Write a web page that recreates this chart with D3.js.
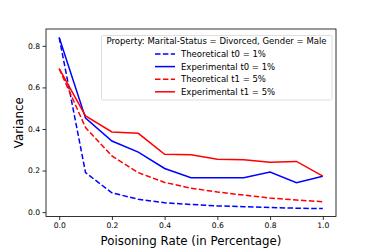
<!DOCTYPE html>
<html lang="en">
<head>
<meta charset="UTF-8">
<title>Variance vs Poisoning Rate</title>
<script src="https://d3js.org/d3.v7.min.js"></script>
<style>
    body { margin: 0; background: #fff; font-family: "DejaVu Sans", sans-serif; }
    svg text { fill: #000; }
</style>
</head>
<body>
<div id="chart"></div>
<script>
    const rates = [0.0, 0.1, 0.2, 0.3, 0.4, 0.5, 0.6, 0.7, 0.8, 0.9, 1.0];
    const theoT0 = [0.84, 0.19, 0.093, 0.062, 0.045, 0.037, 0.03, 0.026, 0.022, 0.019, 0.017];
    const expT0 = [0.84, 0.452, 0.342, 0.289, 0.21, 0.166, 0.166, 0.166, 0.193, 0.142, 0.173];
    const theoT1 = [0.69, 0.407, 0.27, 0.19, 0.143, 0.115, 0.097, 0.082, 0.068, 0.058, 0.05];
    const expT1 = [0.69, 0.463, 0.386, 0.379, 0.278, 0.276, 0.254, 0.252, 0.24, 0.244, 0.173];
    const xTicks = [0.0, 0.2, 0.4, 0.6, 0.8, 1.0];
    const yTicks = [0.0, 0.2, 0.4, 0.6, 0.8];
    const legendTitle = "Property: Marital-Status = Divorced, Gender = Male";

    const series = [
        { name: "Theoretical t0 = 1%", values: theoT0, color: "#0000ff", dash: "5.5,2.4" },
        { name: "Experimental t0 = 1%", values: expT0, color: "#0000ff", dash: null },
        { name: "Theoretical t1 = 5%", values: theoT1, color: "#ff0000", dash: "5.5,2.4" },
        { name: "Experimental t1 = 5%", values: expT1, color: "#ff0000", dash: null }
    ];

    const width = 374, height = 249;
    const margin = { top: 29, right: 38, bottom: 32.5, left: 46 };

    const svg = d3.select("#chart").append("svg")
        .attr("width", width)
        .attr("height", height);

    const x = d3.scaleLinear()
        .domain([-0.05, 1.05])
        .range([margin.left, width - margin.right]);

    const y = d3.scaleLinear()
        .domain([-0.021, 0.881])
        .range([height - margin.bottom, margin.top]);

    // axes
    const xAxis = svg.append("g")
        .attr("transform", `translate(0,${height - margin.bottom})`)
        .call(d3.axisBottom(x).tickValues(xTicks).tickFormat(d3.format(".1f")).tickSize(3.5).tickPadding(2.5));
    const yAxis = svg.append("g")
        .attr("transform", `translate(${margin.left},0)`)
        .call(d3.axisLeft(y).tickValues(yTicks).tickFormat(d3.format(".1f")).tickSize(3.5).tickPadding(2.5));

    [xAxis, yAxis].forEach(g => {
        g.select(".domain").remove();
        g.selectAll("text").style("font-family", "DejaVu Sans").style("font-size", "7.6px").attr("fill", "#000");
        g.selectAll("line").attr("stroke", "#000").attr("stroke-width", 0.8);
    });

    // frame
    svg.append("rect")
        .attr("x", margin.left)
        .attr("y", margin.top)
        .attr("width", width - margin.left - margin.right)
        .attr("height", height - margin.top - margin.bottom)
        .attr("fill", "none")
        .attr("stroke", "#000")
        .attr("stroke-width", 0.8);

    const line = d3.line()
        .x((d, i) => x(rates[i]))
        .y(d => y(d));

    series.forEach(s => {
        svg.append("path")
            .datum(s.values)
            .attr("d", line)
            .attr("fill", "none")
            .attr("stroke", s.color)
            .attr("stroke-width", 1.5)
            .attr("stroke-dasharray", s.dash);
    });

    // axis labels
    svg.append("text")
        .attr("x", (margin.left + width - margin.right) / 2)
        .attr("y", 245)
        .attr("text-anchor", "middle")
        .style("font-size", "11.8px")
        .text("Poisoning Rate (in Percentage)");

    svg.append("text")
        .attr("transform", `translate(22.5,${(margin.top + height - margin.bottom) / 2}) rotate(-90)`)
        .attr("text-anchor", "middle")
        .style("font-size", "11.8px")
        .text("Variance");

    // legend
    const legend = svg.append("g");
    legend.append("rect")
        .attr("x", 101.5)
        .attr("y", 35.5)
        .attr("width", 230.5)
        .attr("height", 64.5)
        .attr("rx", 1.5)
        .attr("fill", "#fff")
        .attr("fill-opacity", 0.8)
        .attr("stroke", "#d6d6d6")
        .attr("stroke-width", 0.8);

    legend.append("text")
        .attr("x", 216.5)
        .attr("y", 44.3)
        .attr("text-anchor", "middle")
        .style("font-size", "8.5px")
        .text(legendTitle);

    series.forEach((s, i) => {
        const cy = 54 + i * 12.6;
        legend.append("line")
            .attr("x1", 155).attr("x2", 175)
            .attr("y1", cy).attr("y2", cy)
            .attr("stroke", s.color)
            .attr("stroke-width", 1.5)
            .attr("stroke-dasharray", s.dash);
        legend.append("text")
            .attr("x", 181)
            .attr("y", cy + 3)
            .style("font-size", "8.5px")
            .text(s.name);
    });
</script>
</body>
</html>
